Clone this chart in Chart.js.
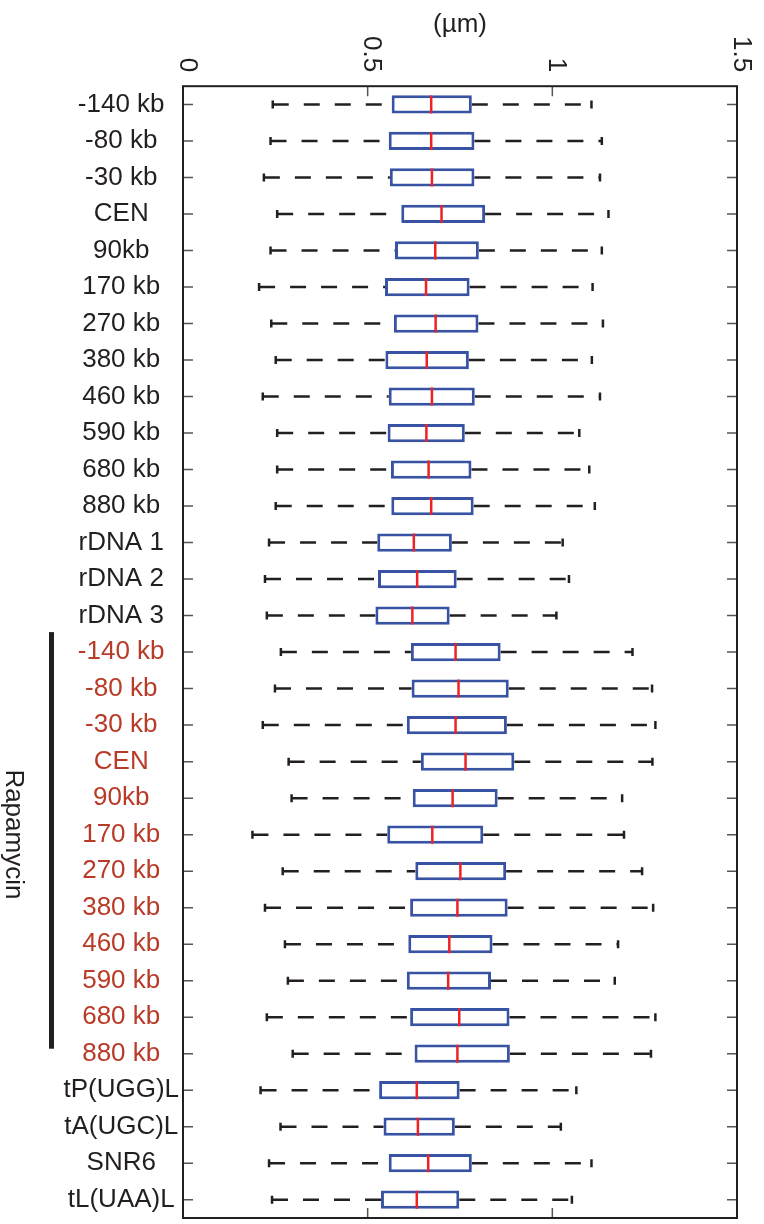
<!DOCTYPE html>
<html>
<head>
<meta charset="utf-8">
<script src="https://cdn.jsdelivr.net/npm/chart.js@4.4.1/dist/chart.umd.min.js"></script>
<style>
  html, body { margin: 0; padding: 0; background: #fff; }
  #wrap { width: 764px; height: 1224px; }
</style>
</head>
<body>
<div id="wrap"><canvas id="chart"></canvas></div>
<script>
// rows, top to bottom
const cats = ['-140 kb', '-80 kb', '-30 kb', 'CEN', '90kb', '170 kb', '270 kb', '380 kb', '460 kb', '590 kb', '680 kb', '880 kb',
    'rDNA 1', 'rDNA 2', 'rDNA 3',
    '-140 kb', '-80 kb', '-30 kb', 'CEN', '90kb', '170 kb', '270 kb', '380 kb', '460 kb', '590 kb', '680 kb', '880 kb',
    'tP(UGG)L', 'tA(UGC)L', 'SNR6', 'tL(UAA)L'];
// 1 = Rapamycin treated
const treated = [0, 0, 0, 0, 0, 0, 0, 0, 0, 0, 0, 0, 0, 0, 0,
    1, 1, 1, 1, 1, 1, 1, 1, 1, 1, 1, 1,
    0, 0, 0, 0];
const groupLabel = 'Rapamycin';

// box plot values (µm)
const lowWhisker = [0.243, 0.237, 0.219, 0.255, 0.237, 0.206, 0.239, 0.251, 0.216, 0.255, 0.255, 0.251, 0.233, 0.222, 0.227,
    0.265, 0.249, 0.216, 0.286, 0.294, 0.188, 0.270, 0.222, 0.276, 0.284, 0.227, 0.297,
    0.210, 0.264, 0.233, 0.241];
const q1 = [0.565, 0.557, 0.560, 0.591, 0.574, 0.547, 0.571, 0.548, 0.557, 0.554, 0.563, 0.564, 0.526, 0.528, 0.521,
    0.617, 0.619, 0.606, 0.644, 0.622, 0.553, 0.629, 0.615, 0.610, 0.606, 0.615, 0.627,
    0.531, 0.543, 0.557, 0.536];
const median = [0.672, 0.672, 0.674, 0.700, 0.683, 0.658, 0.684, 0.660, 0.674, 0.659, 0.665, 0.672, 0.625, 0.634, 0.621,
    0.738, 0.746, 0.738, 0.765, 0.730, 0.675, 0.751, 0.743, 0.721, 0.718, 0.748, 0.743,
    0.633, 0.636, 0.664, 0.633];
const q3 = [0.782, 0.789, 0.789, 0.818, 0.801, 0.776, 0.800, 0.774, 0.790, 0.763, 0.781, 0.787, 0.728, 0.741, 0.722,
    0.860, 0.882, 0.877, 0.897, 0.852, 0.813, 0.875, 0.879, 0.838, 0.834, 0.884, 0.885,
    0.749, 0.736, 0.782, 0.748];
const highWhisker = [1.106, 1.134, 1.129, 1.152, 1.134, 1.109, 1.137, 1.107, 1.129, 1.073, 1.100, 1.115, 1.028, 1.045, 1.011,
    1.217, 1.270, 1.279, 1.271, 1.189, 1.194, 1.243, 1.273, 1.178, 1.169, 1.279, 1.267,
    1.065, 1.023, 1.106, 1.053];

const xTickValues = [0, 0.5, 1, 1.5];
const xTickLabels = ['0', '0.5', '1', '1.5'];

const FONT = '"Liberation Sans", Arial, Helvetica, sans-serif';
const INK = '#231f20';
const RED_LABEL = '#b93b27';

Chart.defaults.font.family = FONT;
Chart.defaults.color = INK;

// points for the whisker lines: lower whisker, gap, upper whisker, gap
const whiskerPts = [];
cats.forEach((c, i) => {
    whiskerPts.push({x: lowWhisker[i], y: i}, {x: q1[i], y: i}, {x: null, y: i});
    whiskerPts.push({x: q3[i], y: i}, {x: highWhisker[i], y: i}, {x: null, y: i});
});
const capPts = [];
cats.forEach((c, i) => {
    capPts.push({x: lowWhisker[i], y: i}, {x: highWhisker[i], y: i});
});
const medianPts = cats.map((c, i) => ({x: median[i], y: i}));
const boxes = cats.map((c, i) => [q1[i], q3[i]]);

// frame, inward ticks, rotated x labels and the Rapamycin bracket
const framePlugin = {
    id: 'framePlugin',
    afterDraw(chart) {
        const {ctx, chartArea: a, scales: {x, y}} = chart;
        ctx.save();

        ctx.strokeStyle = '#555';
        ctx.lineWidth = 1.5;
        ctx.beginPath();
        xTickValues.forEach(v => {
            const px = x.getPixelForValue(v);
            ctx.moveTo(px, a.top);
            ctx.lineTo(px, a.top + 10);
            ctx.moveTo(px, a.bottom);
            ctx.lineTo(px, a.bottom - 10);
        });
        cats.forEach((c, i) => {
            const py = y.getPixelForValue(i);
            ctx.moveTo(a.left, py);
            ctx.lineTo(a.left + 10, py);
            ctx.moveTo(a.right, py);
            ctx.lineTo(a.right - 10, py);
        });
        ctx.stroke();

        ctx.strokeStyle = INK;
        ctx.lineWidth = 2;
        ctx.strokeRect(a.left, a.top, a.right - a.left, a.bottom - a.top);

        ctx.fillStyle = INK;
        ctx.font = '26px ' + FONT;
        ctx.textAlign = 'right';
        ctx.textBaseline = 'middle';
        xTickValues.forEach((v, i) => {
            ctx.save();
            ctx.translate(x.getPixelForValue(v) + 4, a.top - 14);
            ctx.rotate(Math.PI / 2);
            ctx.fillText(xTickLabels[i], 0, 0);
            ctx.restore();
        });

        const first = treated.indexOf(1);
        const last = treated.lastIndexOf(1);
        const y0 = y.getPixelForValue(first) - 20;
        const y1 = y.getPixelForValue(last) - 5;
        ctx.fillRect(49, y0, 5, y1 - y0);

        ctx.save();
        ctx.translate(6, (y0 + y1) / 2 - 6);
        ctx.rotate(Math.PI / 2);
        ctx.textAlign = 'center';
        ctx.textBaseline = 'alphabetic';
        ctx.fillText(groupLabel, 0, 0);
        ctx.restore();

        ctx.restore();
    }
};

new Chart(document.getElementById('chart'), {
    type: 'bar',
    data: {
        labels: cats,
        datasets: [{
            type: 'line',
            label: 'median',
            data: medianPts,
            parsing: false,
            indexAxis: 'y',
            showLine: false,
            pointStyle: 'line',
            pointRotation: 90,
            pointRadius: 9,
            pointHoverRadius: 9,
            pointBorderColor: '#ec2227',
            pointBorderWidth: 2.5,
            order: 0
        }, {
            type: 'line',
            label: 'caps',
            data: capPts,
            parsing: false,
            indexAxis: 'y',
            showLine: false,
            pointStyle: 'line',
            pointRotation: 90,
            pointRadius: 4,
            pointHoverRadius: 4,
            pointBorderColor: INK,
            pointBorderWidth: 2.5,
            order: 1
        }, {
            type: 'bar',
            label: 'box',
            data: boxes,
            indexAxis: 'y',
            backgroundColor: '#ffffff',
            borderColor: '#3953a4',
            borderWidth: 3,
            borderSkipped: false,
            barPercentage: 0.5,
            categoryPercentage: 1,
            order: 2
        }, {
            type: 'line',
            label: 'whiskers',
            data: whiskerPts,
            parsing: false,
            indexAxis: 'y',
            showLine: true,
            spanGaps: false,
            tension: 0,
            pointRadius: 0,
            pointHoverRadius: 0,
            borderColor: INK,
            borderWidth: 2.5,
            borderDash: [16, 15],
            order: 3
        }]
    },
    options: {
        indexAxis: 'y',
        responsive: true,
        maintainAspectRatio: false,
        animation: false,
        layout: {
            // the point markers would otherwise add extra room at the bottom
            autoPadding: false,
            padding: {top: 9, left: 63, right: 27, bottom: 6}
        },
        plugins: {
            legend: {display: false},
            tooltip: {enabled: false}
        },
        scales: {
            x: {
                type: 'linear',
                position: 'top',
                min: 0,
                max: 1.5,
                ticks: {display: false},
                grid: {display: false, drawTicks: false},
                border: {display: false},
                title: {
                    display: true,
                    text: '(µm)',
                    color: INK,
                    font: {size: 26},
                    padding: {top: 0, bottom: 46}
                }
            },
            y: {
                type: 'category',
                offset: true,
                grid: {display: false, drawTicks: false},
                border: {display: false},
                // fixed label column width, no extra padding above/below the rows
                afterFit(scale) {
                    scale.width = 120;
                    scale.paddingTop = 0;
                    scale.paddingBottom = 0;
                },
                ticks: {
                    autoSkip: false,
                    crossAlign: 'center',
                    padding: 4,
                    font: {size: 26},
                    color: ctx => treated[ctx.index] ? RED_LABEL : INK
                }
            }
        }
    },
    plugins: [framePlugin]
});
</script>
</body>
</html>
